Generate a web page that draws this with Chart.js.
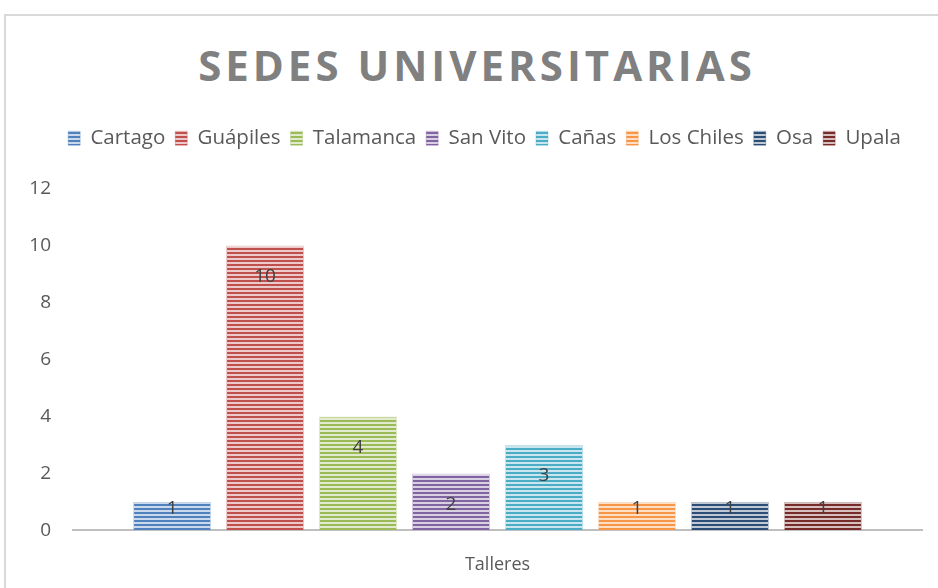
<!DOCTYPE html>
<html lang="es">
<head>
  <meta charset="UTF-8" />
  <title>Sedes universitarias</title>
  <script src="https://cdn.jsdelivr.net/npm/chart.js"></script>
  <style>
    html, body { margin: 0; padding: 0; background: #fff; }
    body { width: 938px; height: 588px; position: relative; overflow: hidden; }
    .frame {
      position: absolute; left: 4px; top: 14px; width: 960px; height: 620px;
      border: 2px solid #d9d9d9; box-sizing: border-box;
    }
    h1 {
      position: absolute; left: 8px; width: 938px; top: 36px; margin: 0;
      text-align: center; font-family: "Open Sans", sans-serif; font-weight: bold;
      font-size: 42px; letter-spacing: 4px; color: #808080; line-height: 58px;
    }
    #chartCanvas { position: absolute; left: 0; top: 0; }
  </style>
</head>
<body>
  <div class="frame"></div>
  <h1>SEDES UNIVERSITARIAS</h1>
  <canvas id="chartCanvas" width="938" height="588"></canvas>

  <script>
    const categories = ["Talleres"];
    const sedes = ["Cartago", "Guápiles", "Talamanca", "San Vito", "Cañas", "Los Chiles", "Osa", "Upala"];
    const talleres = [1, 10, 4, 2, 3, 1, 1, 1];
    const colores = ["#4f81bd", "#c0504d", "#9bbb59", "#8064a2", "#4bacc6", "#f79646", "#2c4d75", "#772c2a"];
    const yTicks = [0, 2, 4, 6, 8, 10, 12];

    // rayas horizontales como en Excel
    function stripes(color) {
      const c = document.createElement("canvas");
      c.width = 4; c.height = 4;
      const g = c.getContext("2d");
      g.fillStyle = "#ffffff";
      g.fillRect(0, 0, 4, 4);
      g.globalAlpha = 0.3;
      g.fillStyle = color;
      g.fillRect(0, 0, 4, 4);
      g.globalAlpha = 1;
      g.fillRect(0, 0, 4, 2);
      return g.createPattern(c, "repeat");
    }

    const etiquetas = {
      id: "etiquetas",
      afterDatasetsDraw(chart) {
        const ctx = chart.ctx;
        ctx.save();
        ctx.font = "19px 'Open Sans', sans-serif";
        ctx.fillStyle = "#404040";
        ctx.textAlign = "center";
        ctx.textBaseline = "middle";
        chart.data.datasets.forEach((ds, i) => {
          const bar = chart.getDatasetMeta(i).data[0];
          const h = bar.base - bar.y;
          const y = h > 45 ? bar.y + 31 : bar.y + 7;
          ctx.fillText(String(ds.data[0]), bar.x, y);
        });
        ctx.restore();
      }
    };

    // espacio extra bajo la leyenda y leyenda centrada sobre el área del gráfico
    const margenLeyenda = {
      id: "margenLeyenda",
      beforeInit(chart) {
        const fit = chart.legend.fit;
        chart.legend.fit = function () {
          fit.bind(chart.legend)();
          this.height += 30;
        };
      },
      afterLayout(chart) {
        chart.legend.left += 18;
        chart.legend.right += 18;
      }
    };

    const ctx = document.getElementById("chartCanvas").getContext("2d");
    const chart = new Chart(ctx, {
      type: "bar",
      data: {
        labels: categories,
        datasets: sedes.map((s, i) => ({
          label: s,
          data: [talleres[i]],
          backgroundColor: stripes(colores[i]),
          borderColor: colores[i] + "55",
          borderWidth: 1
        }))
      },
      options: {
        responsive: false,
        animation: false,
        categoryPercentage: 0.876,
        barPercentage: 0.84,
        layout: { padding: { top: 118, left: 11, right: 16, bottom: -12 } },
        plugins: {
          legend: {
            position: "top",
            labels: {
              boxWidth: 12,
              boxHeight: 14,
              padding: 10,
              color: "#595959",
              font: { family: "'Open Sans', sans-serif", size: 20.5 }
            }
          },
          title: { display: false },
          tooltip: { enabled: false }
        },
        scales: {
          x: {
            grid: { display: false, drawTicks: false },
            border: { color: "#bfbfbf", width: 2 },
            ticks: { color: "#595959", padding: 24, font: { family: "'Open Sans', sans-serif", size: 18 } }
          },
          y: {
            min: 0,
            max: 12,
            afterBuildTicks(axis) { axis.ticks = yTicks.map(v => ({ value: v })); },
            afterFit(axis) { axis.width = 62; },
            grid: { display: false, drawTicks: false },
            border: { display: false },
            ticks: { color: "#595959", padding: 22, font: { family: "'Open Sans', sans-serif", size: 19 } }
          }
        }
      },
      plugins: [etiquetas, margenLeyenda]
    });
  </script>
</body>
</html>
